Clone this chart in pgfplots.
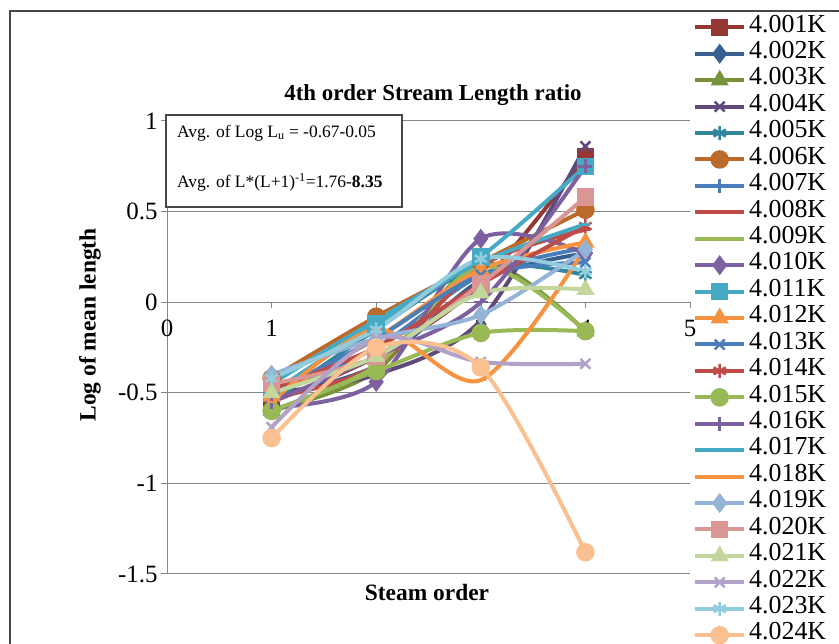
\documentclass[border=0pt]{standalone}
\usepackage{fontspec}
\setmainfont{Liberation Serif}
\usepackage{pgfplots}
\pgfplotsset{compat=1.18}
\definecolor{c1}{HTML}{953735}
\definecolor{c2}{HTML}{376092}
\definecolor{c3}{HTML}{77933C}
\definecolor{c4}{HTML}{604A7B}
\definecolor{c5}{HTML}{31859C}
\definecolor{c6}{HTML}{BC6A2A}
\definecolor{c7}{HTML}{4A7EBB}
\definecolor{c8}{HTML}{BE4B48}
\definecolor{c9}{HTML}{98B954}
\definecolor{c10}{HTML}{7D60A0}
\definecolor{c11}{HTML}{46AAC5}
\definecolor{c12}{HTML}{F69240}
\definecolor{c13}{HTML}{4A7EBB}
\definecolor{c14}{HTML}{BE4B48}
\definecolor{c15}{HTML}{98B954}
\definecolor{c16}{HTML}{7D60A0}
\definecolor{c17}{HTML}{46AAC5}
\definecolor{c18}{HTML}{F69240}
\definecolor{c19}{HTML}{95B3D7}
\definecolor{c20}{HTML}{D99694}
\definecolor{c21}{HTML}{C3D69B}
\definecolor{c22}{HTML}{B3A2C7}
\definecolor{c23}{HTML}{93CDDD}
\definecolor{c24}{HTML}{FAC090}
\definecolor{gridc}{HTML}{868686}
\pgfplotsset{
  ser/.style 2 args={color=#1, line width=4bp, smooth, mark=#2, mark options={solid, fill=#1, line width=2.5bp}},
}
\begin{document}
\begin{tikzpicture}[x=1bp,y=1bp]
\useasboundingbox (0,0) rectangle (839,644);
\fill[white] (0,0) rectangle (839,644);
\draw[line width=1.8bp, color=black!72] (10,-20) -- (10,633) -- (860,633);
\begin{axis}[
  at={(167bp,70bp)}, anchor=south west, scale only axis,
  width=523bp, height=453bp,
  xmin=0, xmax=5, ymin=-1.5, ymax=1,
  axis x line*=middle, axis y line*=left,
  hide obscured x ticks=false,
  axis line style={draw=gridc, line width=1bp},
  tick style={draw=gridc, line width=1bp},
  major tick length=6bp, tick align=outside,
  xtick={0,1,2,3,4,5}, xticklabels={0,1,2,3,4,5},
  ytick={-1.5,-1,-0.5,0,0.5,1}, yticklabels={-1.5,-1,-0.5,0,0.5,1},
  ymajorgrids, grid style={draw=gridc, line width=1bp},
  ticklabel style={font=\fontsize{25}{25}\selectfont},
  xticklabel style={yshift=-8bp},
  clip=false,
  legend style={at={(axis description cs:1.0057,1.2364)}, anchor=north west,
    draw=none, fill=none, inner sep=0pt, row sep=0pt, column sep=3bp,
    font=\fontsize{26}{26}\selectfont,
    nodes={inner sep=0pt, text height=18bp, text depth=8.43bp}},
  legend cell align=left,
  legend image code/.code={\draw[mark repeat=2, mark phase=2] plot coordinates {(0bp,0bp) (24.5bp,0bp) (49bp,0bp)};},
]
\addplot[ser={c1}{square*}, mark size=7.5bp] coordinates {(1,-0.55) (2,-0.30) (3,0.10) (4,0.80)};
\addlegendentry{4.001K}
\addplot[ser={c2}{diamond*}, mark size=8bp] coordinates {(1,-0.52) (2,-0.35) (3,0.12) (4,0.27)};
\addlegendentry{4.002K}
\addplot[ser={c3}{triangle*}, mark size=8bp] coordinates {(1,-0.60) (2,-0.38) (3,0.22) (4,-0.16)};
\addlegendentry{4.003K}
\addplot[ser={c4}{x}, mark size=7bp] coordinates {(1,-0.50) (2,-0.40) (3,-0.10) (4,0.86)};
\addlegendentry{4.004K}
\addplot[ser={c5}{asterisk}, mark size=7bp] coordinates {(1,-0.55) (2,-0.15) (3,0.20) (4,0.15)};
\addlegendentry{4.005K}
\addplot[ser={c6}{*}, mark size=8bp] coordinates {(1,-0.42) (2,-0.08) (3,0.22) (4,0.51)};
\addlegendentry{4.006K}
\addplot[ser={c7}{+}, mark size=7bp] coordinates {(1,-0.50) (2,-0.25) (3,0.15) (4,0.30)};
\addlegendentry{4.007K}
\addplot[ser={c8}{-}, mark size=5bp] coordinates {(1,-0.53) (2,-0.35) (3,0.20) (4,0.40)};
\addlegendentry{4.008K}
\addplot[ser={c9}{-}, mark size=5bp] coordinates {(1,-0.60) (2,-0.35) (3,0.20) (4,-0.16)};
\addlegendentry{4.009K}
\addplot[ser={c10}{diamond*}, mark size=8bp] coordinates {(1,-0.58) (2,-0.44) (3,0.35) (4,0.27)};
\addlegendentry{4.010K}
\addplot[ser={c11}{square*}, mark size=7.5bp] coordinates {(1,-0.50) (2,-0.12) (3,0.25) (4,0.75)};
\addlegendentry{4.011K}
\addplot[ser={c12}{triangle*}, mark size=8bp] coordinates {(1,-0.52) (2,-0.20) (3,0.18) (4,0.33)};
\addlegendentry{4.012K}
\addplot[ser={c13}{x}, mark size=7bp] coordinates {(1,-0.50) (2,-0.20) (3,0.15) (4,0.22)};
\addlegendentry{4.013K}
\addplot[ser={c14}{asterisk}, mark size=7bp] coordinates {(1,-0.48) (2,-0.25) (3,0.10) (4,0.42)};
\addlegendentry{4.014K}
\addplot[ser={c15}{*}, mark size=8bp] coordinates {(1,-0.60) (2,-0.38) (3,-0.17) (4,-0.16)};
\addlegendentry{4.015K}
\addplot[ser={c16}{+}, mark size=7bp] coordinates {(1,-0.55) (2,-0.30) (3,0.00) (4,0.75)};
\addlegendentry{4.016K}
\addplot[ser={c17}{-}, mark size=5bp] coordinates {(1,-0.45) (2,-0.10) (3,0.22) (4,0.43)};
\addlegendentry{4.017K}
\addplot[ser={c18}{-}, mark size=5bp] coordinates {(1,-0.55) (2,-0.15) (3,-0.43) (4,0.30)};
\addlegendentry{4.018K}
\addplot[ser={c19}{diamond*}, mark size=8bp] coordinates {(1,-0.40) (2,-0.20) (3,-0.07) (4,0.29)};
\addlegendentry{4.019K}
\addplot[ser={c20}{square*}, mark size=7.5bp] coordinates {(1,-0.45) (2,-0.30) (3,0.10) (4,0.58)};
\addlegendentry{4.020K}
\addplot[ser={c21}{triangle*}, mark size=8bp] coordinates {(1,-0.50) (2,-0.30) (3,0.05) (4,0.07)};
\addlegendentry{4.021K}
\addplot[ser={c22}{x}, mark size=7bp] coordinates {(1,-0.69) (2,-0.20) (3,-0.33) (4,-0.34)};
\addlegendentry{4.022K}
\addplot[ser={c23}{asterisk}, mark size=7bp] coordinates {(1,-0.42) (2,-0.15) (3,0.24) (4,0.17)};
\addlegendentry{4.023K}
\addplot[ser={c24}{*}, mark size=8bp] coordinates {(1,-0.75) (2,-0.25) (3,-0.36) (4,-1.38)};
\addlegendentry{4.024K}
\end{axis}
\node[font=\bfseries\fontsize{23}{23}\selectfont] at (433,549) {4th order Stream Length ratio};
\node[font=\bfseries\fontsize{23.5}{23.5}\selectfont] at (427,52) {Steam order};
\node[font=\bfseries\fontsize{23.5}{23.5}\selectfont, rotate=90] at (90,319) {Log of mean length};
\draw[black!72, line width=1.5bp, fill=white] (166,529) rectangle (402,437);
\node[anchor=west, font=\fontsize{17.5}{17.5}\selectfont, inner sep=0pt] at (177,511) {Avg. of Log L\textsubscript{u} = -0.67-0.05};
\node[anchor=west, font=\fontsize{17.5}{17.5}\selectfont, inner sep=0pt] at (177,462) {Avg. of L*(L+1)\textsuperscript{-1}=1.76-\textbf{8.35}};
\end{tikzpicture}
\end{document}
